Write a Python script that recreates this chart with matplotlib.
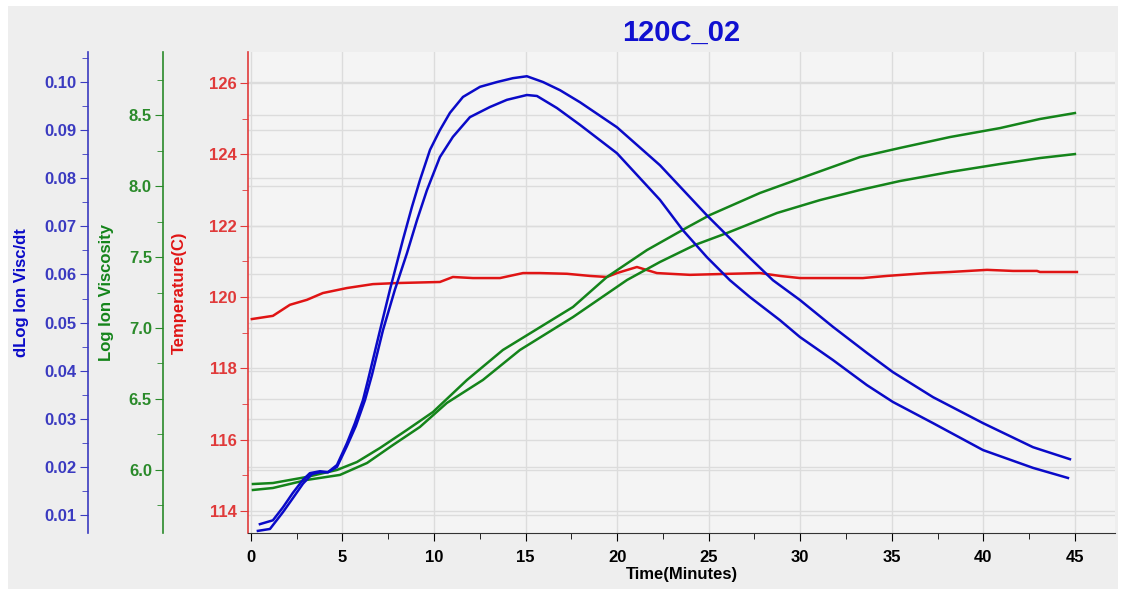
import matplotlib.pyplot as plt
from matplotlib.ticker import MultipleLocator, FormatStrFormatter
from matplotlib.patches import Rectangle

plt.rcParams['font.family'] = ['Liberation Sans', 'DejaVu Sans']
plt.rcParams['font.weight'] = 'bold'
plt.rcParams['axes.labelweight'] = 'bold'

# temperature (C)
t_red = [0.05, 1.20, 2.13, 3.06, 3.93, 5.24, 6.66, 7.97, 10.32, 11.03, 12.12, 13.60,
         14.86, 15.78, 17.26, 18.51, 19.44, 19.99, 21.08, 22.17, 22.88, 23.98, 26.16,
         27.80, 28.89, 29.98, 33.42, 34.74, 36.92, 38.18, 40.20, 41.62, 42.93, 43.09, 45.11]
temp = [119.38, 119.47, 119.78, 119.92, 120.11, 120.25, 120.36, 120.39, 120.42, 120.56,
        120.53, 120.53, 120.67, 120.67, 120.65, 120.59, 120.56, 120.67, 120.84, 120.67,
        120.65, 120.62, 120.65, 120.67, 120.59, 120.53, 120.53, 120.59, 120.67, 120.70,
        120.76, 120.73, 120.73, 120.70, 120.70]

# log ion viscosity, two sensors
t_g1 = [0.11, 1.20, 3.06, 4.70, 5.79, 7.05, 8.52, 9.94, 11.80, 13.76, 17.59, 19.44,
        21.63, 23.86, 25.07, 27.80, 30.53, 33.26, 35.44, 38.18, 40.91, 43.09, 45.00]
logv1 = [5.901, 5.908, 5.951, 6.000, 6.056, 6.155, 6.282, 6.408, 6.634, 6.845, 7.148,
         7.359, 7.549, 7.711, 7.796, 7.951, 8.078, 8.204, 8.268, 8.345, 8.408, 8.472, 8.514]
t_g2 = [0.11, 1.20, 3.06, 4.86, 6.34, 7.76, 9.23, 10.70, 12.67, 14.69, 17.59, 20.54,
        22.34, 24.25, 26.00, 28.73, 31.08, 33.26, 35.44, 38.18, 40.91, 43.09, 45.00]
logv2 = [5.859, 5.873, 5.930, 5.965, 6.049, 6.176, 6.303, 6.472, 6.634, 6.845, 7.077,
         7.338, 7.465, 7.585, 7.669, 7.810, 7.901, 7.972, 8.035, 8.099, 8.155, 8.197, 8.225]

# dLog ion visc / dt, two sensors
t_b1 = [0.49, 1.20, 1.75, 2.29, 2.84, 3.22, 3.77, 4.21, 4.70, 5.24, 5.68, 6.12, 6.39,
        7.05, 7.59, 8.30, 8.79, 9.23, 9.78, 10.32, 10.87, 11.58, 12.51, 13.44, 14.31,
        15.07, 15.95, 16.88, 17.97, 19.99, 22.34, 24.90, 27.09, 28.51, 29.98, 31.79,
        33.64, 35.06, 37.25, 39.98, 42.71, 44.73]
dv1 = [0.0081, 0.0089, 0.0116, 0.0146, 0.0173, 0.0187, 0.0191, 0.0189, 0.0204, 0.0249,
       0.0291, 0.0339, 0.0380, 0.0484, 0.0568, 0.0672, 0.0740, 0.0796, 0.0859, 0.0900,
       0.0936, 0.0969, 0.0990, 0.1000, 0.1008, 0.1012, 0.1000, 0.0983, 0.0958, 0.0906,
       0.0827, 0.0723, 0.0640, 0.0588, 0.0547, 0.0491, 0.0437, 0.0397, 0.0345, 0.0291,
       0.0241, 0.0216]
t_b2 = [0.38, 1.04, 1.75, 2.29, 2.84, 3.33, 3.77, 4.21, 4.70, 5.24, 5.73, 6.23, 6.61,
        7.21, 7.86, 8.52, 9.07, 9.61, 10.32, 11.03, 11.96, 13.05, 13.98, 15.07, 15.62,
        16.71, 17.97, 19.99, 22.34, 23.59, 24.90, 26.16, 27.25, 28.89, 29.98, 31.79,
        33.64, 35.06, 37.25, 39.98, 42.71, 44.62]
dv2 = [0.0067, 0.0071, 0.0106, 0.0135, 0.0165, 0.0185, 0.0189, 0.0189, 0.0200, 0.0243,
       0.0285, 0.0339, 0.0391, 0.0484, 0.0568, 0.0644, 0.0713, 0.0775, 0.0844, 0.0886,
       0.0927, 0.0948, 0.0963, 0.0973, 0.0971, 0.0946, 0.0911, 0.0852, 0.0755, 0.0692,
       0.0636, 0.0588, 0.0553, 0.0505, 0.0470, 0.0422, 0.0370, 0.0335, 0.0291, 0.0235,
       0.0198, 0.0177]

RED, GREEN, BLUE = '#e01414', '#14841a', '#0a0ac8'
RED_AX, GREEN_AX, BLUE_AX = '#e03a3a', '#2a8a2a', '#3a3ac0'
GRID = '#dcdcdc'

W, H = 1135, 595
fig = plt.figure(figsize=(W / 100, H / 100), dpi=100, facecolor='white')
fig.patches.append(Rectangle((8 / W, 1 - 589 / H), 1110 / W, 583 / H,
                             transform=fig.transFigure, facecolor='#eeeeee',
                             edgecolor='none', zorder=-10))

ax = fig.add_axes([248 / W, 1 - 533 / H, 867 / W, 481 / H])
ax_g = ax.twinx()
ax_b = ax.twinx()

ax_b.set_zorder(1)
ax_g.set_zorder(2)
ax.set_zorder(3)
ax_b.patch.set_visible(True)
ax_b.set_facecolor('#f4f4f4')
ax.patch.set_visible(False)

for a in (ax, ax_g, ax_b):
    a.spines['top'].set_visible(False)
    a.spines['right'].set_visible(False)
for a in (ax_g, ax_b):
    a.spines['bottom'].set_visible(False)
    a.spines['left'].set_visible(True)
    a.yaxis.set_ticks_position('left')
    a.yaxis.set_label_position('left')

ax_g.spines['left'].set_position(('axes', (163 - 248) / 867))
ax_b.spines['left'].set_position(('axes', (88 - 248) / 867))

ax.set_xlim(-0.16, 47.19)
ax.set_ylim(113.38, 126.87)
ax_g.set_ylim(5.556, 8.944)
ax_b.set_ylim(0.00626, 0.10624)

ax.plot(t_red, temp, color=RED, lw=1.8)
ax.plot(t_g1, logv1, color=GREEN, lw=1.8, transform=ax_g.transData)
ax.plot(t_g2, logv2, color=GREEN, lw=1.8, transform=ax_g.transData)
ax.plot(t_b1, dv1, color=BLUE, lw=1.8, transform=ax_b.transData)
ax.plot(t_b2, dv2, color=BLUE, lw=1.8, transform=ax_b.transData)
ax.set_xlim(-0.16, 47.19)
ax.set_ylim(113.38, 126.87)

ax.xaxis.set_major_locator(MultipleLocator(5))
ax.xaxis.set_minor_locator(MultipleLocator(2.5))
ax.yaxis.set_major_locator(MultipleLocator(2))
ax.yaxis.set_minor_locator(MultipleLocator(1))
ax_g.yaxis.set_major_locator(MultipleLocator(0.5))
ax_g.yaxis.set_minor_locator(MultipleLocator(0.25))
ax_g.yaxis.set_major_formatter(FormatStrFormatter('%.1f'))
ax_b.yaxis.set_major_locator(MultipleLocator(0.01))
ax_b.yaxis.set_minor_locator(MultipleLocator(0.005))
ax_b.yaxis.set_major_formatter(FormatStrFormatter('%.2f'))

ax.grid(True, which='major', color=GRID, lw=1)
ax_g.grid(True, axis='y', which='major', color=GRID, lw=1)
ax_b.grid(True, axis='y', which='major', color=GRID, lw=1)

ax.tick_params(axis='x', which='both', direction='out', colors='black',
               labelsize=12, pad=6)
ax.tick_params(axis='x', which='major', length=6)
ax.tick_params(axis='x', which='minor', length=4)
ax.spines['bottom'].set_color('#333333')

for a, c_ax in ((ax, RED_AX), (ax_g, GREEN_AX), (ax_b, BLUE_AX)):
    a.spines['left'].set_color(c_ax)
    a.spines['left'].set_linewidth(1.2)
    a.tick_params(axis='y', which='both', direction='out', color=c_ax,
                  labelcolor=c_ax, labelsize=12, pad=2)
    a.tick_params(axis='y', which='major', length=6)
    a.tick_params(axis='y', which='minor', length=4)

ax.set_ylabel('Temperature(C)', color=RED, fontsize=12, fontweight='bold')
ax.yaxis.set_label_coords(-0.0704, 0.5)
ax_g.set_ylabel('Log Ion Viscosity', color=GREEN, fontsize=12, fontweight='bold')
ax_g.yaxis.set_label_coords(-0.1546, 0.5)
ax_b.set_ylabel('dLog Ion Visc/dt', color=BLUE, fontsize=12, fontweight='bold')
ax_b.yaxis.set_label_coords(-0.2526, 0.5)

ax.set_xlabel('Time(Minutes)', fontsize=12, fontweight='bold', labelpad=2)
ax.set_title('120C_02', color='#1010d0', fontsize=21, fontweight='bold', pad=8)

fig.savefig('out.png', dpi=100, facecolor=fig.get_facecolor())
